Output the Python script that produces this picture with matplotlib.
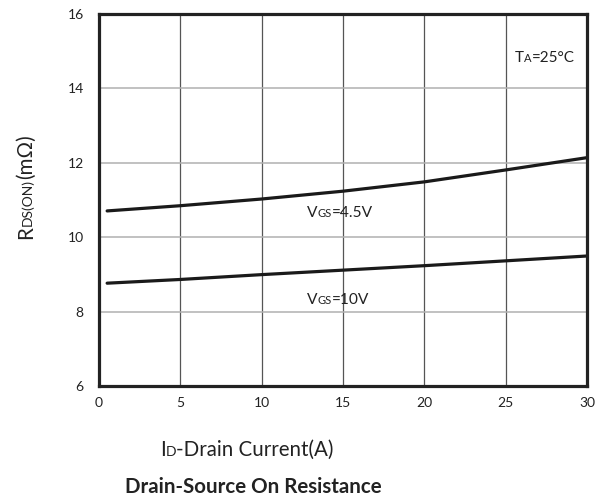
import matplotlib
matplotlib.use('Agg')
import matplotlib.pyplot as plt
from matplotlib.transforms import IdentityTransform

plt.rcParams['font.family'] = ['Lato', 'DejaVu Sans']

# data
current = [0.5, 5, 10, 15, 20, 25, 30]
rds_45v = [10.70, 10.84, 11.02, 11.23, 11.48, 11.80, 12.13]
rds_10v = [8.76, 8.86, 8.99, 9.11, 9.23, 9.36, 9.49]
xticks = [0, 5, 10, 15, 20, 25, 30]
yticks = [6, 8, 10, 12, 14, 16]

W, H = 605, 501
fig = plt.figure(figsize=(W / 100, H / 100), dpi=100)
ax = fig.add_axes([99 / W, 1 - 386 / H, 488 / W, 372.5 / H])

ax.plot(current, rds_45v, color='#1a1a1a', lw=2.3, solid_capstyle='round')
ax.plot(current, rds_10v, color='#1a1a1a', lw=2.3, solid_capstyle='round')

ax.set_xlim(0, 30)
ax.set_ylim(6, 16)
ax.set_xticks(xticks)
ax.set_yticks(yticks)
ax.tick_params(length=0, labelsize=10, colors='#222222')
ax.tick_params(axis='x', pad=8)
ax.tick_params(axis='y', pad=11)
for x in xticks[1:-1]:
    ax.axvline(x, color='#555555', lw=0.9, zorder=0)
for y in yticks[1:-1]:
    ax.axhline(y, color='#b0b0b0', lw=1.1, zorder=0)
for s in ax.spines.values():
    s.set_linewidth(2.3)
    s.set_color('#222222')

renderer = fig.canvas.get_renderer()


def rich_text(x, y, pieces, rotation=0, center=False, **kw):
    # pieces: list of (text, size); x, y in pixels from top-left, baseline start
    texts = []
    for s, fs in pieces:
        t = fig.text(0, 0, s, fontsize=fs, rotation=rotation, rotation_mode='anchor',
                     ha='left', va='baseline', transform=IdentityTransform(),
                     color='#222222', **kw)
        texts.append(t)
    widths = []
    for t in texts:
        bb = t.get_window_extent(renderer)
        widths.append(bb.height if rotation else bb.width)
    total = sum(widths)
    pos = -total / 2 if center else 0
    for t, w in zip(texts, widths):
        if rotation:
            t.set_position((x, H - y + pos))
        else:
            t.set_position((x + pos, H - y))
        pos += w


rich_text(515, 62.5, [('T', 11), ('A', 8), ('=25°C', 11)])
rich_text(307, 217, [('V', 11.2), ('GS', 8), ('=4.5V', 11.2)])
rich_text(307, 304, [('V', 11.2), ('GS', 8), ('=10V', 11.2)])
rich_text(247, 456, [('I', 14.8), ('D', 10), ('-Drain Current(A)', 14.8)], center=True)
rich_text(32, 187, [('R', 14.8), ('DS(ON)', 10), ('(mΩ)', 14.8)], rotation=90, center=True)
fig.text(253 / W, 1 - 493 / H, 'Drain-Source On Resistance', fontsize=14.8,
         fontweight='bold', ha='center', va='baseline', color='#222222')

fig.savefig('out.png', dpi=100)
